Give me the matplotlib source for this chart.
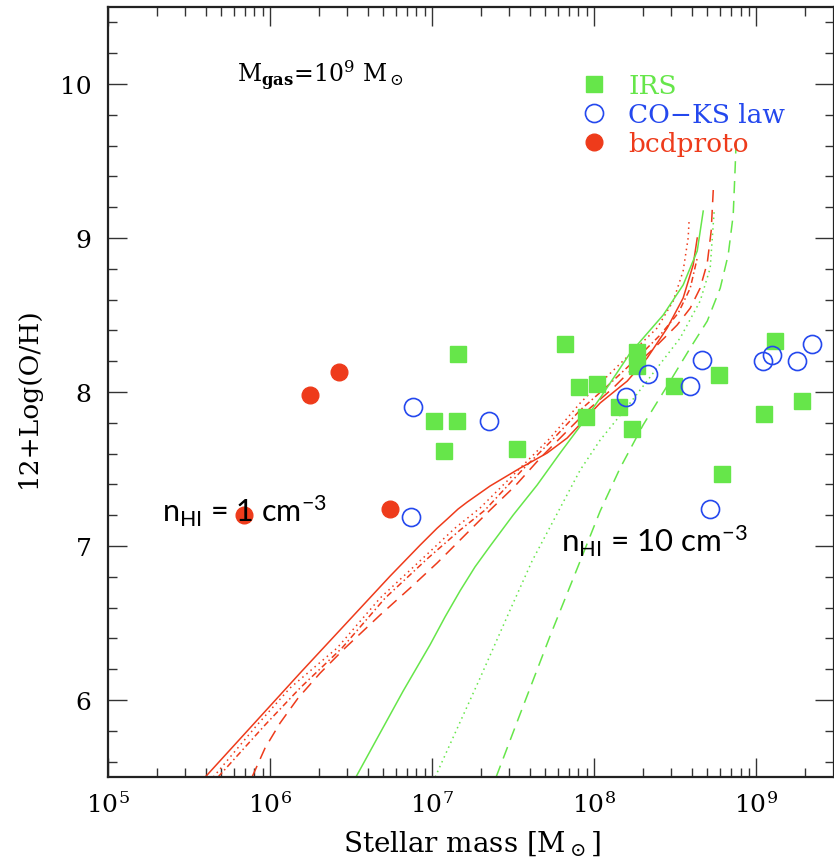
import numpy as np
import matplotlib
matplotlib.use("Agg")
import matplotlib.pyplot as plt
from matplotlib.ticker import FixedLocator, LogLocator, NullFormatter, MultipleLocator

plt.rcParams['font.family'] = ['DejaVu Serif']
plt.rcParams['mathtext.fontset'] = 'dejavuserif'
# sans annotations use the "custom" math set
plt.rcParams['mathtext.rm'] = 'Lato'
plt.rcParams['mathtext.it'] = 'Lato:italic'
plt.rcParams['mathtext.bf'] = 'Lato:bold'

GREEN = '#66E64A'
BLUE = '#2448EE'
RED = '#EE3B1B'

# ---- observed galaxies: log10(M*/Msun), 12+log(O/H) ----
irs_logm = [7.157, 7.817, 7.012, 7.154, 7.072, 7.522, 7.909, 8.020, 7.948, 8.263,
            8.263, 8.152, 8.234, 8.494, 8.769, 8.786, 9.114, 9.050, 9.281]
irs_oh = [8.25, 8.31, 7.81, 7.81, 7.62, 7.63, 8.03, 8.05, 7.84, 8.26,
          8.17, 7.90, 7.76, 8.04, 8.11, 7.47, 8.33, 7.86, 7.94]

coks_logm = [6.883, 7.352, 6.870, 8.195, 8.333, 8.590, 8.667, 8.713, 9.040, 9.100, 9.250, 9.347]
coks_oh = [7.90, 7.81, 7.19, 7.97, 8.12, 8.04, 8.21, 7.24, 8.20, 8.24, 8.20, 8.31]

bcd_logm = [6.247, 6.426, 5.840, 6.741]
bcd_oh = [7.98, 8.13, 7.20, 7.24]

# ---- model tracks, n_HI = 1 cm^-3 (red) ----
r_solid_logm = [5.60, 6.185, 6.741, 6.926, 7.030, 7.093, 7.160, 7.216, 7.358, 7.543,
                7.710, 7.833, 8.037, 8.204, 8.327, 8.451, 8.549, 8.611, 8.636]
r_solid_oh = [5.50, 6.175, 6.805, 7.006, 7.115, 7.175, 7.240, 7.285, 7.390, 7.506,
              7.604, 7.701, 7.929, 8.071, 8.221, 8.416, 8.610, 8.825, 9.000]

r_dot_logm = [5.65, 5.920, 6.123, 6.414, 6.679, 6.944, 7.142, 7.296, 7.543, 7.728,
              7.914, 8.037, 8.241, 8.389, 8.488, 8.549, 8.580, 8.586]
r_dot_oh = [5.50, 5.838, 6.078, 6.338, 6.662, 6.922, 7.117, 7.247, 7.506, 7.701,
            7.929, 8.058, 8.266, 8.416, 8.591, 8.786, 9.000, 9.117]

r_dd_logm = [5.679, 5.969, 6.185, 6.444, 6.710, 6.975, 7.173, 7.327, 7.556, 7.741,
             7.914, 8.068, 8.253, 8.407, 8.519, 8.593, 8.636]
r_dd_oh = [5.50, 5.838, 6.078, 6.338, 6.662, 6.922, 7.104, 7.234, 7.494, 7.688,
           7.883, 8.026, 8.208, 8.370, 8.513, 8.675, 8.870]

r_dash_logm = [5.889, 5.969, 6.062, 6.173, 6.309, 6.463, 6.679, 6.864, 7.031, 7.185,
               7.358, 7.512, 7.667, 7.821, 7.975, 8.117, 8.253, 8.389, 8.512, 8.593,
               8.654, 8.698, 8.722, 8.735]
r_dash_oh = [5.50, 5.688, 5.851, 6.013, 6.175, 6.338, 6.552, 6.727, 6.890, 7.052,
             7.234, 7.390, 7.571, 7.734, 7.896, 8.026, 8.169, 8.305, 8.435, 8.545,
             8.675, 8.838, 9.045, 9.312]

# ---- model tracks, n_HI = 10 cm^-3 (green) ----
g_solid_logm = [6.53, 6.679, 6.821, 6.988, 7.080, 7.173, 7.265, 7.358, 7.500, 7.648,
                7.790, 7.914, 8.037, 8.222, 8.426, 8.549, 8.636, 8.673]
g_solid_oh = [5.50, 5.786, 6.058, 6.360, 6.540, 6.710, 6.865, 7.000, 7.201, 7.396,
              7.604, 7.779, 7.961, 8.253, 8.500, 8.695, 8.916, 9.175]

g_dot_logm = [7.019, 7.142, 7.296, 7.481, 7.617, 7.790, 7.914, 8.037, 8.222, 8.364,
              8.531, 8.654, 8.716, 8.741]
g_dot_oh = [5.50, 5.786, 6.143, 6.584, 6.903, 7.247, 7.494, 7.688, 7.929, 8.123,
            8.351, 8.591, 8.805, 9.182]

g_dash_logm = [7.395, 7.543, 7.728, 7.914, 8.037, 8.160, 8.302, 8.469, 8.593, 8.698,
               8.778, 8.827, 8.858, 8.870, 8.877]
g_dash_oh = [5.50, 5.909, 6.416, 6.903, 7.227, 7.506, 7.786, 8.071, 8.286, 8.461,
             8.675, 8.890, 9.149, 9.455, 9.649]

fig = plt.figure(figsize=(8.34, 8.62), dpi=100)
ax = fig.add_axes([0.1295, 0.0974, 0.8705, 0.8933])

def m(logm):
    return 10 ** np.asarray(logm)

lw = 1.1
ax.plot(m(r_solid_logm), r_solid_oh, color=RED, lw=lw, ls='-')
ax.plot(m(r_dot_logm), r_dot_oh, color=RED, lw=lw, ls=(0, (1, 2.5)))
ax.plot(m(r_dd_logm), r_dd_oh, color=RED, lw=lw, ls=(0, (4, 2, 1, 2)))
ax.plot(m(r_dash_logm), r_dash_oh, color=RED, lw=lw, ls=(0, (8, 5)))
ax.plot(m(g_solid_logm), g_solid_oh, color=GREEN, lw=lw, ls='-')
ax.plot(m(g_dot_logm), g_dot_oh, color=GREEN, lw=lw, ls=(0, (1, 2.5)))
ax.plot(m(g_dash_logm), g_dash_oh, color=GREEN, lw=lw, ls=(0, (8, 5)))

ax.plot(m(irs_logm), irs_oh, ls='none', marker='s', ms=11.5, mfc=GREEN, mec=GREEN,
        label='IRS')
ax.plot(m(coks_logm), coks_oh, ls='none', marker='o', ms=13, mfc='none', mec=BLUE,
        mew=1.2, label='CO\u2212KS law')
ax.plot(m(bcd_logm), bcd_oh, ls='none', marker='o', ms=12, mfc=RED, mec=RED,
        label='bcdproto')

ax.set_xscale('log')
ax.set_xlim(1e5, 10 ** 9.48)
ax.set_ylim(5.5, 10.5)

ax.xaxis.set_major_locator(LogLocator(base=10, numticks=10))
ax.xaxis.set_minor_locator(LogLocator(base=10, subs=np.arange(2, 10), numticks=20))
ax.xaxis.set_minor_formatter(NullFormatter())
ax.yaxis.set_major_locator(FixedLocator([6, 7, 8, 9, 10]))
ax.yaxis.set_minor_locator(MultipleLocator(0.2))

ax.tick_params(which='both', direction='in', top=True, right=True, width=1.0,
               colors='#333333', labelcolor='black')
ax.tick_params(which='major', length=13.5, labelsize=18, pad=10)
ax.tick_params(which='minor', length=6.8)
ax.tick_params(axis='y', which='major', pad=12)
for s in ax.spines.values():
    s.set_linewidth(1.6)
    s.set_color('#222222')

ax.set_xlabel(r'Stellar mass [M$_\odot$]', fontsize=20, va='center')
ax.xaxis.set_label_coords(0.501, -0.0844)
ax.set_ylabel('12+Log(O/H)', fontsize=19, va='center')
ax.yaxis.set_label_coords(-0.110, 0.4935)

ax.text(0.178, 0.903, r'M$_{\mathbf{gas}}$=10$^9$ M$_\odot$', transform=ax.transAxes,
        fontsize=17, ha='left', va='baseline')

leg = ax.legend(loc='upper left', bbox_to_anchor=(0.640, 0.928), frameon=False,
                fontsize=19, handlelength=0.8, handletextpad=0.9, labelspacing=0.15,
                borderaxespad=0, labelcolor=[GREEN, BLUE, RED])

ax.text(0.0744, 0.3325, r'n$_{\mathrm{HI}}$ = 1 cm$^{\mathrm{-3}}$', transform=ax.transAxes,
        family='Lato', math_fontfamily='custom', fontsize=22, ha='left', va='baseline')
ax.text(0.6240, 0.2935, r'n$_{\mathrm{HI}}$ = 10 cm$^{\mathrm{-3}}$', transform=ax.transAxes,
        family='Lato', math_fontfamily='custom', fontsize=22.5, ha='left', va='baseline')

fig.savefig('out.png', dpi=100)
